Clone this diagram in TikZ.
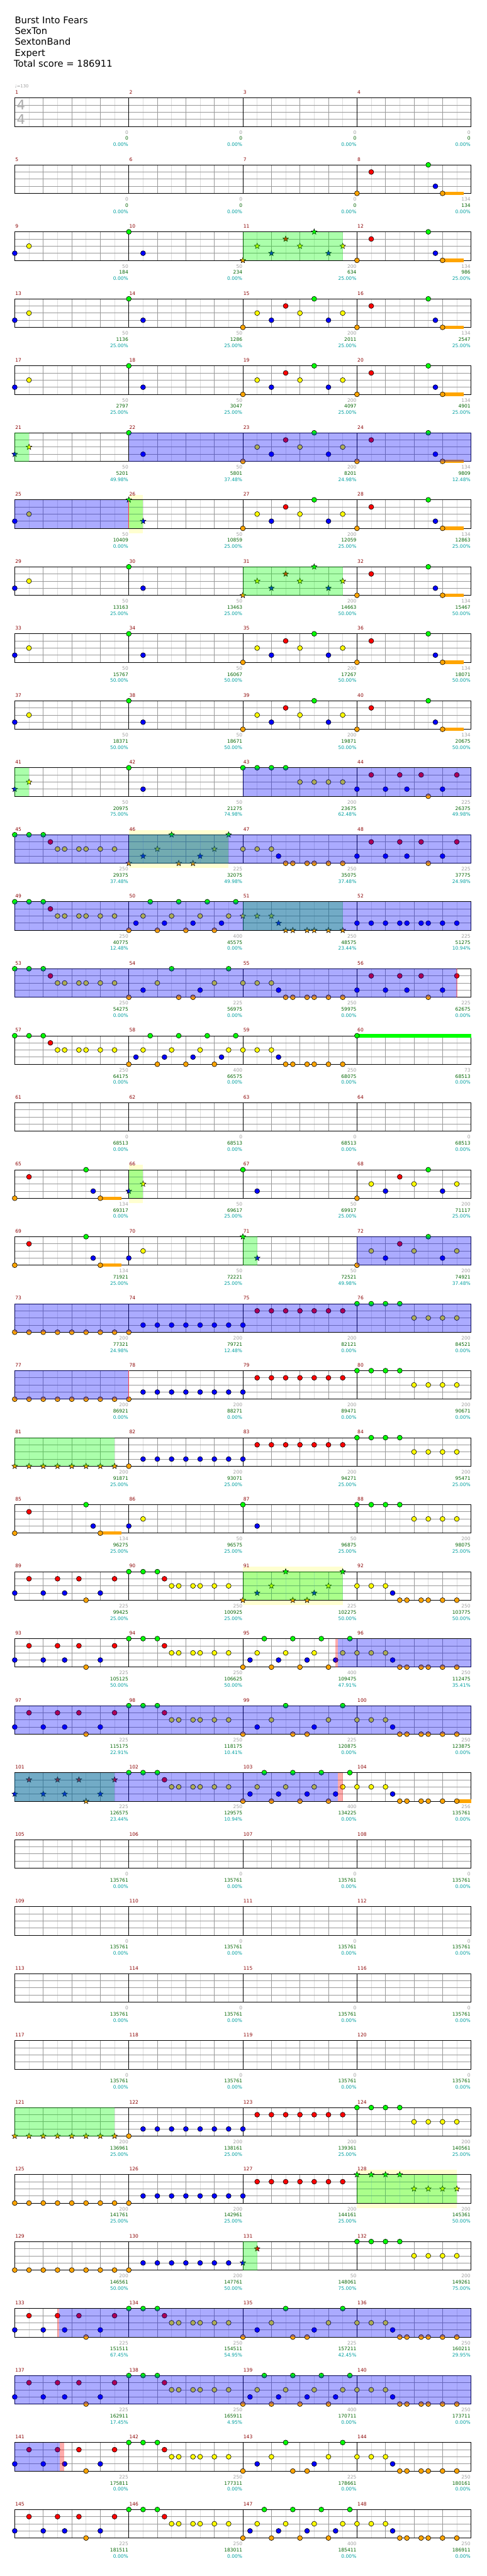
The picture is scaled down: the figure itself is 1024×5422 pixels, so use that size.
\documentclass[tikz,border=0pt]{standalone}
\usepackage{xcolor}
\usetikzlibrary{calc}
\usepackage{fontspec}
\setmainfont{DejaVu Sans}
\usetikzlibrary{positioning,shapes}

\definecolor{lane0}{RGB}{0,255,0}
\definecolor{lane1}{RGB}{255,0,0}
\definecolor{lane2}{RGB}{255,255,0}
\definecolor{lane3}{RGB}{0,0,255}
\definecolor{lane4}{RGB}{255,165,0}
\definecolor{minorgrid}{RGB}{221,221,221}
\definecolor{majorgrid}{RGB}{153,153,153}
\definecolor{barnum}{RGB}{139,0,0}
\definecolor{ptsgray}{RGB}{160,160,160}
\definecolor{ptsgreen}{RGB}{0,100,0}
\definecolor{ptscyan}{RGB}{0,160,160}
\definecolor{paleyellow}{RGB}{255,255,208}
\definecolor{sigcolor}{RGB}{170,170,170}

% note lists: position (eighths) / lane
\def\pA{0/3,1/2,8/0,9/3}
\def\pBa{0/4,1/2,2/3,3/1,4/2,5/0,6/3,7/2}
\def\pBb{0/4,1/1,5/0,5.5/3,6/4}
\def\pO{0/0,1/0,2/0,2.5/1,3/2,3.5/2,4.5/2,5/2,6/2,7/2}
\def\pX{0/4,1/3,2/2,3/0,3.5/4,4.5/4,5/3,6/2,7/0}
\def\pY{0/2,1/2,2/2,2.5/3,3/4,3.5/4,4.5/4,5/4,6/4,7/4}
\def\pZ{0/4,0.5/3,1/2,1.5/0,2/4,2.5/3,3/2,3.5/0,4/4,4.5/3,5/2,5.5/0,6/4,6.5/3,7/2,7.5/0}
\def\pW{0/3,1/1,2/3,3/1,3.5/3,4.5/1,5/4,6/3,7/1}
\def\pG{0/0,1/0,2/0,3/0,4/2,5/2,6/2,7/2}
\def\pQ{0/3,1/3,2/3,3/3,3.5/3,4.5/3,5/3,6/3,7/3}
\def\pRo{0/4,1/4,2/4,3/4,4/4,5/4,6/4,7/4}
\def\pRr{8/4,9/3,10/3,11/3,12/3,13/3,14/3,15/3,16/3,17/1,18/1,19/1,20/1,21/1,22/1,23/1}
\def\pRs{8/4,9/3,10/3,11/3,12/3,13/3,14/3,15/3}

\newcommand{\gnotes}[3]{\foreach \p/\l in #3 {\filldraw[note,fill=lane\l] ({31+30*(\p+#2)},{206+141*#1+15*\l}) circle (5.2);}}
\newcommand{\gstars}[3]{\foreach[count=\i] \p/\l in #3 {\node[spstar,fill=lane\l] (st-#1-#2-\i) at ({31+30*(\p+#2)},{206+141*#1+15*\l}) {};}}
\newcommand{\gsus}[4]{\fill[lane#2] ({31+30*#3},{206+141*#1+15*#2-3.5}) rectangle ({31+30*#4},{206+141*#1+15*#2+3.5});}
\newcommand{\spzone}[3]{\fill[spfill] ({31+30*#2},{206+141*#1}) rectangle ({31+30*#3},{266+141*#1});}
\newcommand{\odzone}[3]{\fill[odfill] ({31+30*#2},{206+141*#1}) rectangle ({31+30*#3},{266+141*#1});}
\newcommand{\ybox}[3]{\fill[paleyellow] ({31+30*#2},{196+141*#1}) rectangle ({31+30*#3},{276+141*#1});}
\newcommand{\redstrip}[3]{\fill[red,opacity=0.33] ({31+30*#2},{206+141*#1}) rectangle ({31+30*#3},{266+141*#1});}
\newcommand{\redline}[2]{\draw[red!75,line width=1pt] ({31+30*#2},{206+141*#1}) -- ++(0,60);}

\begin{document}
\begin{tikzpicture}[x=1pt,y=-1pt,
  note/.style={draw=black,line width=0.8pt},
  spstar/.style={star,star points=5,star point ratio=2.3,minimum size=12.5pt,inner sep=0pt,draw=black,line width=0.7pt},
  minor/.style={minorgrid,line width=1pt},
  major/.style={majorgrid,line width=1pt},
  bar/.style={black,line width=1pt},
  odfill/.style={fill=lane3,opacity=0.33},
  spfill/.style={fill=lane0,opacity=0.33},
  mnum/.style={anchor=base west,inner sep=0pt,text=barnum,font=\fontsize{10}{12}\selectfont},
  pts/.style={anchor=base east,inner sep=0pt,font=\fontsize{10}{12}\selectfont},
  title/.style={anchor=base west,inner sep=0pt,font=\fontsize{19.5}{23}\selectfont}]
\fill[white] (0,0) rectangle (1024,5422);
\useasboundingbox (0,0) rectangle (1024,5422);

% header
\node[title] (song) at (31,49) {Burst Into Fears};
\node[title] (artist) at (31,72) {SexTon};
\node[title] (charter) at (31,95) {SextonBand};
\node[title] (level) at (31,118) {Expert};
\node[title] (total) at (29,141) {Total score = 186911};
\node[anchor=base west,inner sep=0pt,text=ptsgray,font=\fontsize{9}{10}\selectfont] (tempo) at (31,185) {♩=130};

% backgrounds behind phrases
\ybox{6}{8}{9} \ybox{11}{8}{15} \ybox{16}{8}{9} \ybox{22}{16}{23} \ybox{31}{24}{31}

% staves
\foreach \r in {0,...,36} {
  \pgfmathsetmacro\T{206+141*\r}
  \foreach \k in {1,3,...,31} \draw[minor] ({31+30*\k},\T) -- ++(0,60);
  \foreach \k in {2,4,6,10,12,14,18,20,22,26,28,30} \draw[major] ({31+30*\k},\T) -- ++(0,60);
  \foreach \j in {15,30,45} \draw[major] (31,{\T+\j}) -- (991,{\T+\j});
  \foreach \k in {8,16,24} \draw[bar] ({31+30*\k},\T) -- ++(0,60);
  \draw[bar] (31,\T) rectangle (991,{\T+60});
}
\node[text=sigcolor,inner sep=0pt,font=\fontsize{28}{28}\selectfont] (sigtop) at (44,221) {4};
\node[text=sigcolor,inner sep=0pt,font=\fontsize{28}{28}\selectfont] (sigbot) at (44,251) {4};

% notes
\gsus{1}{4}{30}{31.5} \gnotes{1}{24}{\pBb}
\gnotes{2}{0}{\pA} \gstars{2}{16}{\pBa} \gsus{2}{4}{30}{31.5} \gnotes{2}{24}{\pBb}
\foreach \r in {3,4,8,9} {\gnotes{\r}{0}{\pA} \gnotes{\r}{16}{\pBa} \gsus{\r}{4}{30}{31.5} \gnotes{\r}{24}{\pBb}}
\gstars{5}{0}{{0/3,1/2}} \gnotes{5}{0}{{8/0,9/3}} \gnotes{5}{16}{\pBa} \gsus{5}{4}{30}{31.5} \gnotes{5}{24}{\pBb}
\gnotes{6}{0}{{0/3,1/2}} \gstars{6}{0}{{8/0,9/3}} \gnotes{6}{16}{\pBa} \gsus{6}{4}{30}{31.5} \gnotes{6}{24}{\pBb}
\gnotes{7}{0}{\pA} \gstars{7}{16}{\pBa} \gsus{7}{4}{30}{31.5} \gnotes{7}{24}{\pBb}
\gstars{10}{0}{{0/3,1/2}} \gnotes{10}{0}{{8/0,9/3}} \gnotes{10}{16}{\pG} \gnotes{10}{24}{\pW}
\gnotes{11}{0}{\pO} \gstars{11}{8}{\pX} \gnotes{11}{16}{\pY} \gnotes{11}{24}{\pW}
\gnotes{12}{0}{\pO} \gnotes{12}{8}{\pZ} \gstars{12}{16}{\pY} \gnotes{12}{24}{\pQ}
\gnotes{13}{0}{\pO} \gnotes{13}{8}{\pX} \gnotes{13}{16}{\pY} \gnotes{13}{24}{\pW}
\gnotes{14}{0}{\pO} \gnotes{14}{8}{\pZ} \gnotes{14}{16}{\pY} \gsus{14}{0}{24}{32} \gnotes{14}{24}{{0/0}}
\gsus{16}{4}{6}{7.5} \gnotes{16}{0}{\pBb} \gstars{16}{0}{{8/3,9/2}} \gnotes{16}{0}{{16/0,17/3}} \gnotes{16}{24}{\pBa}
\gsus{17}{4}{6}{7.5} \gnotes{17}{0}{\pBb} \gnotes{17}{0}{{8/3,9/2}} \gstars{17}{0}{{16/0,17/3}} \gnotes{17}{24}{\pBa}
\foreach \r in {18,19} {\gnotes{\r}{0}{\pRo} \gnotes{\r}{0}{\pRr} \gnotes{\r}{24}{\pG}}
\foreach \r in {20,30} {\gstars{\r}{0}{\pRo} \gnotes{\r}{0}{\pRr} \gnotes{\r}{24}{\pG}}
\gsus{21}{4}{6}{7.5} \gnotes{21}{0}{\pBb} \gnotes{21}{0}{{8/3,9/2,16/0,17/3}} \gnotes{21}{24}{\pG}
\gnotes{22}{0}{\pW} \gnotes{22}{8}{\pO} \gstars{22}{16}{\pX} \gnotes{22}{24}{\pY}
\foreach \r in {23,34,36} {\gnotes{\r}{0}{\pW} \gnotes{\r}{8}{\pO} \gnotes{\r}{16}{\pZ} \gnotes{\r}{24}{\pY}}
\foreach \r in {24,33,35} {\gnotes{\r}{0}{\pW} \gnotes{\r}{8}{\pO} \gnotes{\r}{16}{\pX} \gnotes{\r}{24}{\pY}}
\gstars{25}{0}{\pW} \gnotes{25}{8}{\pO} \gnotes{25}{16}{\pZ} \gsus{25}{4}{31}{32} \gnotes{25}{24}{\pY}
\gnotes{31}{0}{\pRo} \gnotes{31}{0}{\pRr} \gstars{31}{24}{\pG}
\gnotes{32}{0}{\pRo} \gnotes{32}{0}{\pRs} \gstars{32}{0}{{16/3,17/1}} \gnotes{32}{24}{\pG}

% star power phrases
\spzone{2}{16}{23} \spzone{5}{0}{1} \spzone{6}{8}{9} \spzone{7}{16}{23}
\spzone{10}{0}{1} \spzone{11}{8}{15} \spzone{12}{16}{23} \spzone{16}{8}{9}
\spzone{17}{16}{17} \spzone{20}{0}{7} \spzone{22}{16}{23} \spzone{25}{0}{7}
\spzone{30}{0}{7} \spzone{31}{24}{31} \spzone{32}{16}{17}

% activations
\odzone{5}{8}{32} \odzone{6}{0}{8} \odzone{10}{16}{32} \odzone{11}{0}{32}
\odzone{12}{0}{32} \odzone{13}{0}{31} \odzone{17}{24}{32} \odzone{18}{0}{32}
\odzone{19}{0}{8} \odzone{23}{22.65}{32} \odzone{24}{0}{32} \odzone{25}{0}{22.68}
\odzone{33}{3.1}{32} \odzone{34}{0}{32} \odzone{35}{0}{3.16}
\redline{6}{8} \redline{19}{8} \redstrip{13}{30.95}{31.05}
\redstrip{23}{22.5}{22.65} \redstrip{25}{22.68}{23} \redstrip{33}{2.96}{3.1} \redstrip{35}{3.16}{3.47}

% measure numbers and scores
\foreach [count=\m from 0] \ptA/\ptB/\ptC in {0/0/0.00,0/0/0.00,0/0/0.00,0/0/0.00,
  0/0/0.00,0/0/0.00,0/0/0.00,134/134/0.00,
  50/184/0.00,50/234/0.00,200/634/25.00,134/986/25.00,
  50/1136/25.00,50/1286/25.00,200/2011/25.00,134/2547/25.00,
  50/2797/25.00,50/3047/25.00,200/4097/25.00,134/4901/25.00,
  50/5201/49.98,50/5801/37.48,200/8201/24.98,134/9809/12.48,
  50/10409/0.00,50/10859/25.00,200/12059/25.00,134/12863/25.00,
  50/13163/25.00,50/13463/25.00,200/14663/50.00,134/15467/50.00,
  50/15767/50.00,50/16067/50.00,200/17267/50.00,134/18071/50.00,
  50/18371/50.00,50/18671/50.00,200/19871/50.00,134/20675/50.00,
  50/20975/75.00,50/21275/74.98,200/23675/62.48,225/26375/49.98,
  250/29375/37.48,225/32075/49.98,250/35075/37.48,225/37775/24.98,
  250/40775/12.48,400/45575/0.00,250/48575/23.44,225/51275/10.94,
  250/54275/0.00,225/56975/0.00,250/59975/0.00,225/62675/0.00,
  250/64175/0.00,400/66575/0.00,250/68075/0.00,73/68513/0.00,
  0/68513/0.00,0/68513/0.00,0/68513/0.00,0/68513/0.00,
  134/69317/0.00,50/69617/25.00,50/69917/25.00,200/71117/25.00,
  134/71921/25.00,50/72221/25.00,50/72521/49.98,200/74921/37.48,
  200/77321/24.98,200/79721/12.48,200/82121/0.00,200/84521/0.00,
  200/86921/0.00,200/88271/0.00,200/89471/0.00,200/90671/0.00,
  200/91871/25.00,200/93071/25.00,200/94271/25.00,200/95471/25.00,
  134/96275/25.00,50/96575/25.00,50/96875/25.00,200/98075/25.00,
  225/99425/25.00,250/100925/25.00,225/102275/50.00,250/103775/50.00,
  225/105125/50.00,250/106625/50.00,400/109475/47.91,250/112475/35.41,
  225/115175/22.91,250/118175/10.41,225/120875/0.00,250/123875/0.00,
  225/126575/23.44,250/129575/10.94,400/134225/0.00,256/135761/0.00,
  0/135761/0.00,0/135761/0.00,0/135761/0.00,0/135761/0.00,
  0/135761/0.00,0/135761/0.00,0/135761/0.00,0/135761/0.00,
  0/135761/0.00,0/135761/0.00,0/135761/0.00,0/135761/0.00,
  0/135761/0.00,0/135761/0.00,0/135761/0.00,0/135761/0.00,
  200/136961/25.00,200/138161/25.00,200/139361/25.00,200/140561/25.00,
  200/141761/25.00,200/142961/25.00,200/144161/25.00,200/145361/50.00,
  200/146561/50.00,200/147761/50.00,50/148061/75.00,200/149261/75.00,
  225/151511/67.45,250/154511/54.95,225/157211/42.45,250/160211/29.95,
  225/162911/17.45,250/165911/4.95,400/170711/0.00,250/173711/0.00,
  225/175811/0.00,250/177311/0.00,225/178661/0.00,250/180161/0.00,
  225/181511/0.00,250/183011/0.00,400/185411/0.00,250/186911/0.00} {
  \pgfmathtruncatemacro\r{floor(\m/4)}
  \pgfmathtruncatemacro\q{\m-4*\r}
  \pgfmathtruncatemacro\mn{\m+1}
  \pgfmathsetmacro\T{206+141*\r}
  \node[mnum] (bar\mn) at ({32+240*\q},{\T-8}) {\mn};
  \node[pts,text=ptsgray] (gain\mn) at ({270+240*\q},{\T+76}) {\ptA};
  \node[pts,text=ptsgreen] (sum\mn) at ({270+240*\q},{\T+89}) {\ptB};
  \node[pts,text=ptscyan] (pct\mn) at ({270+240*\q},{\T+102}) {\ptC\%};
}
\end{tikzpicture}
\end{document}
